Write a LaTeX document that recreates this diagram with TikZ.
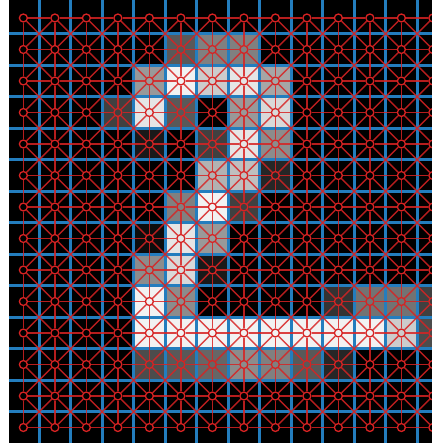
\documentclass[tikz,border=0pt]{standalone}
\usepackage{xcolor}
\usepackage{tikz}
\usetikzlibrary{calc}
\definecolor{gridblue}{RGB}{35,125,190}
\definecolor{linkred}{RGB}{215,35,35}
\tikzset{
  vertex/.style ={circle, draw=linkred, line width=1.2pt, minimum size=7.2pt,
                  inner sep=0pt},
  link/.style   ={draw=linkred, line width=1.2pt, opacity=0.85},
  gridln/.style ={draw=gridblue, line width=2.7pt},
  pixel/.style  ={fill=white!#1!black}
}

\begin{document}
\begin{tikzpicture}[x=1cm, y=-1cm]
% Frame and black image
\useasboundingbox (0,0) rectangle (13.714,14.063);
\clip (0,0) rectangle (13.714,14.063);
\fill[black] (0.27,0) rectangle (13.714,14.063);

% Pixel intensities, one list per row
\foreach \row [count=\r from 0] in {
  {0,0,0,0,0,0,0,0,0,0,0,0,0,0},
  {0,0,0,0,0,.35,.5,.5,0,0,0,0,0,0},
  {0,0,0,0,.6,.95,.8,.9,.65,0,0,0,0,0},
  {0,0,0,.25,.9,.35,0,.6,.85,0,0,0,0,0},
  {0,0,0,0,.1,0,.25,.9,.55,0,0,0,0,0},
  {0,0,0,0,0,0,.7,.75,.15,0,0,0,0,0},
  {0,0,0,0,0,.5,.95,.25,0,0,0,0,0,0},
  {0,0,0,0,.05,.9,.6,0,0,0,0,0,0,0},
  {0,0,0,0,.55,.85,.1,0,0,0,0,0,0,0},
  {0,0,0,0,.95,.55,0,0,0,0,.2,.45,.45,.25},
  {0,0,0,0,.95,.95,.95,.95,.95,.95,.95,.95,.8,.3},
  {0,0,0,0,.3,.35,.4,.55,.5,.35,.15,0,0,0},
  {0,0,0,0,0,0,0,0,0,0,0,0,0,0},
  {0,0,0,0,0,0,0,0,0,0,0,0,0,0}}{
  \foreach \val [count=\c from 0] in \row {
    \ifdim\val pt>0pt
      \pgfmathsetmacro\pct{100*\val}
      \fill[pixel=\pct] ({0.242+\c},{0.071+\r}) rectangle ++(1,1);
    \fi
  }
}

% Blue grid between cells
\foreach \k in {0,...,12}{
  \draw[gridln] ({1.242+\k},0) -- ({1.242+\k},14.063);
  \draw[gridln] (0.27,{1.071+\k}) -- (13.714,{1.071+\k});
}

% Graph vertices, one per cell
\foreach \c in {0,...,13}{
  \foreach \r in {0,...,13}{
    \node[vertex] (v-\c-\r) at ({0.742+\c},{0.571+\r}) {};
  }
}

% 8-neighbour links
\foreach \c in {0,...,13}{
  \foreach \r in {0,...,13}{
    \pgfmathtruncatemacro\cn{\c+1}
    \pgfmathtruncatemacro\rn{\r+1}
    \pgfmathtruncatemacro\rp{\r-1}
    \ifnum\c<13 \draw[link] (v-\c-\r) -- (v-\cn-\r); \fi
    \ifnum\r<13 \draw[link] (v-\c-\r) -- (v-\c-\rn); \fi
    \ifnum\c<13 \ifnum\r<13 \draw[link] (v-\c-\r) -- (v-\cn-\rn); \fi\fi
    \ifnum\c<13 \ifnum\r>0 \draw[link] (v-\c-\r) -- (v-\cn-\rp); \fi\fi
  }
}
\end{tikzpicture}
\end{document}
